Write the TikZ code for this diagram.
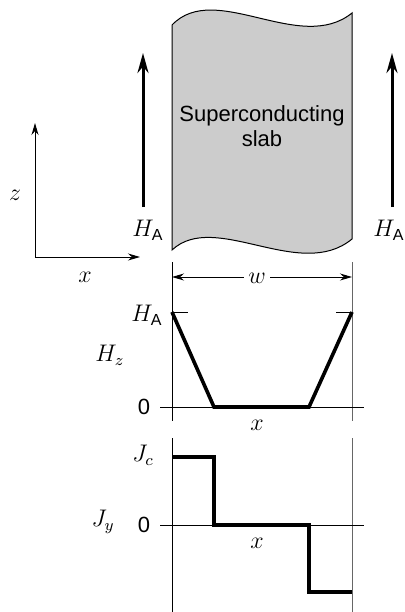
\documentclass[tikz,border=0pt]{standalone}
\usepackage{amsmath}
\usepackage{fontspec}
\setsansfont{Liberation Sans}
\usetikzlibrary{arrows.meta}
\newcommand{\subA}{\text{\sffamily A}}
\begin{document}
\begin{tikzpicture}[x=0.5pt,y=-0.5pt,
  thinline/.style={line width=0.5pt},
  field/.style={line width=1.5pt,-{Stealth[length=10pt,width=5.5pt]}},
  axis/.style={line width=0.5pt,-{Stealth[length=6pt,width=3.5pt]}},
  profile/.style={line width=1.8pt,line join=miter},
  lab/.style={inner sep=1pt,font=\fontsize{12}{14}\selectfont}]
\useasboundingbox (0,0) rectangle (405,612);
% slab
\filldraw[fill=black!20,line width=0.5pt] (172,25) .. controls (215,-20) and (300,55) .. (352,13)
  -- (352,239) .. controls (300,282) and (215,210) .. (172,250) -- cycle;
\node[align=center,font=\sffamily\fontsize{11}{12.5}\selectfont] (slab) at (262,126) {Superconducting\\slab};
% applied field
\coordinate (baseL) at (143,207);
\coordinate (tipL) at (143,53);
\coordinate (baseR) at (392,207);
\coordinate (tipR) at (392,53);
\draw[field] (baseL) -- (tipL);
\draw[field] (baseR) -- (tipR);
\node[lab] (HAl) at (148,230) {$H_{\subA}$};
\node[lab] (HAr) at (389,230) {$H_{\subA}$};
% axes
\coordinate (origin) at (35,257);
\coordinate (zend) at (35,123);
\coordinate (xend) at (140,257);
\draw[axis] (origin) -- (zend);
\draw[axis] (origin) -- (xend);
\node[lab] (zlab) at (15,195) {$z$};
\node[lab] (xlab) at (85,277) {$x$};
% width
\coordinate (wL) at (172,277);
\coordinate (wR) at (352,277);
\draw[thinline] (172,262) -- (172,421);
\draw[thinline,black!60] (352,262) -- (352,421);
\draw[axis] (257,277) -- (wL);
\draw[axis] (257,277) -- (wR);
\node[lab,fill=white,inner sep=2pt] (wlab) at (257,278) {$w$};
% H_z profile
\draw[thinline] (160,407) -- (364,407);
\draw[thinline] (172,312) -- (188,312);
\draw[thinline] (336,312) -- (352,312);
\draw[profile] (172,312) -- (214,407) -- (309,407) -- (352,312);
\node[lab] (HAtick) at (147,315) {$H_{\subA}$};
\node[lab] (Hz) at (110,355) {$H_z$};
\node[lab,font=\sffamily\fontsize{11}{13}\selectfont] (zeroH) at (144,407) {0};
\node[lab] (xH) at (257,425) {$x$};
% J_y profile
\draw[thinline] (172,438) -- (172,612);
\draw[thinline,black!60] (352,438) -- (352,612);
\draw[thinline] (160,525) -- (364,525);
\draw[profile] (172,457) -- (214,457) -- (214,525) -- (309,525) -- (309,592) -- (352,592);
\node[lab] (Jc) at (143,455) {$J_c$};
\node[lab] (Jy) at (103,522) {$J_y$};
\node[lab,font=\sffamily\fontsize{11}{13}\selectfont] (zeroJ) at (144,525) {0};
\node[lab] (xJ) at (257,543) {$x$};
\end{tikzpicture}
\end{document}
